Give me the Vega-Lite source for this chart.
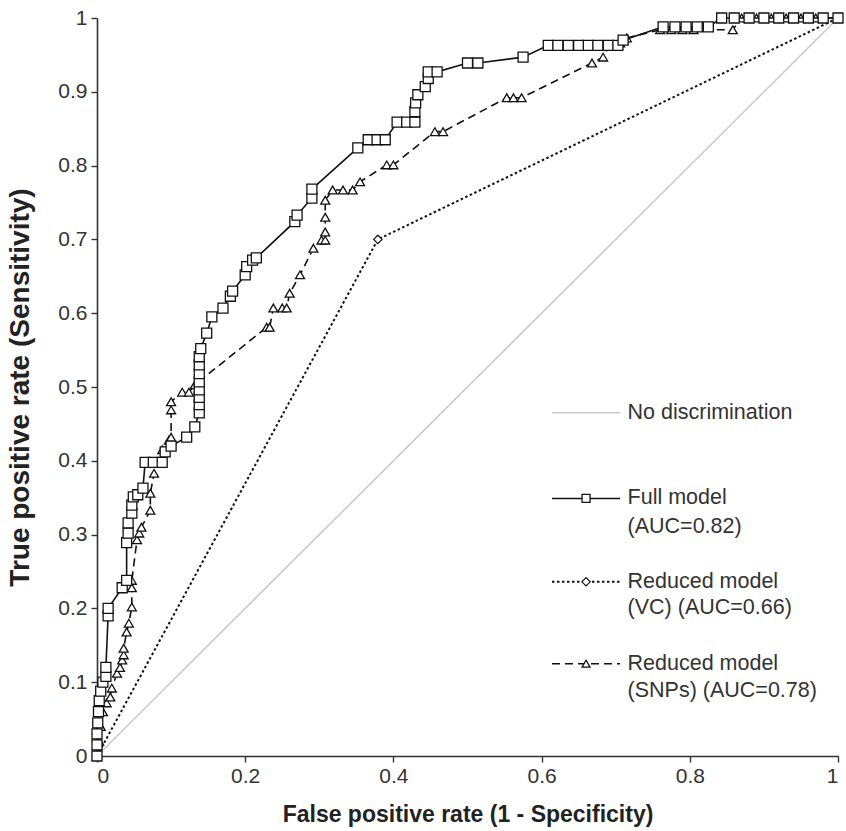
{
  "$schema": "https://vega.github.io/schema/vega-lite/v6.json",
  "width": 741,
  "height": 738,
  "autosize": {"type": "none"},
  "padding": {"left": 97, "top": 18, "right": 8, "bottom": 75},
  "background": "white",
  "config": {
    "view": {"stroke": null},
    "font": "Liberation Sans",
    "axis": {
      "grid": false,
      "domainColor": "#333",
      "domainWidth": 1.6,
      "tickColor": "#333",
      "tickWidth": 1.4,
      "tickSize": 6,
      "labelFont": "Liberation Sans",
      "labelFontSize": 21,
      "labelColor": "#333",
      "titleFont": "Liberation Sans",
      "titleFontWeight": "bold",
      "titleColor": "#222"
    }
  },
  "datasets": {
    "diag": [{"k": 0, "x": 0, "y": 0}, {"k": 1, "x": 1, "y": 1}],
    "vc": [{"k": 0, "x": 0, "y": 0}, {"k": 1, "x": 0.379, "y": 0.70}, {"k": 2, "x": 1, "y": 1}],
    "full": [
      {"k": 0, "x": 0.000, "y": 0.000}, {"k": 1, "x": 0.000, "y": 0.015}, {"k": 2, "x": 0.000, "y": 0.030},
      {"k": 3, "x": 0.001, "y": 0.045}, {"k": 4, "x": 0.002, "y": 0.060}, {"k": 5, "x": 0.003, "y": 0.075},
      {"k": 6, "x": 0.005, "y": 0.088}, {"k": 7, "x": 0.008, "y": 0.100}, {"k": 8, "x": 0.012, "y": 0.108},
      {"k": 9, "x": 0.012, "y": 0.120}, {"k": 10, "x": 0.015, "y": 0.190}, {"k": 11, "x": 0.015, "y": 0.200},
      {"k": 12, "x": 0.034, "y": 0.228}, {"k": 13, "x": 0.040, "y": 0.238}, {"k": 14, "x": 0.040, "y": 0.289},
      {"k": 15, "x": 0.042, "y": 0.302}, {"k": 16, "x": 0.042, "y": 0.316}, {"k": 17, "x": 0.047, "y": 0.329},
      {"k": 18, "x": 0.047, "y": 0.340}, {"k": 19, "x": 0.049, "y": 0.351}, {"k": 20, "x": 0.055, "y": 0.354},
      {"k": 21, "x": 0.062, "y": 0.363}, {"k": 22, "x": 0.065, "y": 0.398}, {"k": 23, "x": 0.076, "y": 0.398},
      {"k": 24, "x": 0.088, "y": 0.398}, {"k": 25, "x": 0.092, "y": 0.412}, {"k": 26, "x": 0.100, "y": 0.420},
      {"k": 27, "x": 0.121, "y": 0.432}, {"k": 28, "x": 0.132, "y": 0.446}, {"k": 29, "x": 0.138, "y": 0.465},
      {"k": 30, "x": 0.138, "y": 0.476}, {"k": 31, "x": 0.138, "y": 0.486}, {"k": 32, "x": 0.138, "y": 0.496},
      {"k": 33, "x": 0.138, "y": 0.507}, {"k": 34, "x": 0.138, "y": 0.518}, {"k": 35, "x": 0.138, "y": 0.530},
      {"k": 36, "x": 0.138, "y": 0.541}, {"k": 37, "x": 0.140, "y": 0.552}, {"k": 38, "x": 0.148, "y": 0.573},
      {"k": 39, "x": 0.155, "y": 0.595}, {"k": 40, "x": 0.170, "y": 0.607}, {"k": 41, "x": 0.180, "y": 0.623},
      {"k": 42, "x": 0.183, "y": 0.630}, {"k": 43, "x": 0.200, "y": 0.652}, {"k": 44, "x": 0.202, "y": 0.663},
      {"k": 45, "x": 0.210, "y": 0.672}, {"k": 46, "x": 0.215, "y": 0.675}, {"k": 47, "x": 0.267, "y": 0.724},
      {"k": 48, "x": 0.270, "y": 0.733}, {"k": 49, "x": 0.290, "y": 0.756}, {"k": 50, "x": 0.290, "y": 0.768},
      {"k": 51, "x": 0.352, "y": 0.824}, {"k": 52, "x": 0.366, "y": 0.835}, {"k": 53, "x": 0.378, "y": 0.835},
      {"k": 54, "x": 0.389, "y": 0.835}, {"k": 55, "x": 0.405, "y": 0.859}, {"k": 56, "x": 0.418, "y": 0.859},
      {"k": 57, "x": 0.429, "y": 0.859}, {"k": 58, "x": 0.429, "y": 0.873}, {"k": 59, "x": 0.430, "y": 0.885},
      {"k": 60, "x": 0.433, "y": 0.896}, {"k": 61, "x": 0.443, "y": 0.907}, {"k": 62, "x": 0.447, "y": 0.918},
      {"k": 63, "x": 0.447, "y": 0.927}, {"k": 64, "x": 0.459, "y": 0.927}, {"k": 65, "x": 0.500, "y": 0.939},
      {"k": 66, "x": 0.514, "y": 0.939}, {"k": 67, "x": 0.575, "y": 0.947}, {"k": 68, "x": 0.609, "y": 0.963},
      {"k": 69, "x": 0.622, "y": 0.963}, {"k": 70, "x": 0.636, "y": 0.963}, {"k": 71, "x": 0.650, "y": 0.963},
      {"k": 72, "x": 0.663, "y": 0.963}, {"k": 73, "x": 0.676, "y": 0.963}, {"k": 74, "x": 0.690, "y": 0.963},
      {"k": 75, "x": 0.703, "y": 0.963}, {"k": 76, "x": 0.710, "y": 0.970}, {"k": 77, "x": 0.764, "y": 0.988},
      {"k": 78, "x": 0.780, "y": 0.988}, {"k": 79, "x": 0.795, "y": 0.988}, {"k": 80, "x": 0.810, "y": 0.988},
      {"k": 81, "x": 0.825, "y": 0.988}, {"k": 82, "x": 0.843, "y": 1.0}, {"k": 83, "x": 0.860, "y": 1.0},
      {"k": 84, "x": 0.880, "y": 1.0}, {"k": 85, "x": 0.900, "y": 1.0}, {"k": 86, "x": 0.920, "y": 1.0},
      {"k": 87, "x": 0.940, "y": 1.0}, {"k": 88, "x": 0.960, "y": 1.0}, {"k": 89, "x": 0.980, "y": 1.0},
      {"k": 90, "x": 1.000, "y": 1.0}
    ],
    "snps": [
      {"k": 0, "x": 0.000, "y": 0.000}, {"k": 1, "x": 0.003, "y": 0.020}, {"k": 2, "x": 0.005, "y": 0.040},
      {"k": 3, "x": 0.008, "y": 0.060}, {"k": 4, "x": 0.013, "y": 0.072}, {"k": 5, "x": 0.018, "y": 0.080},
      {"k": 6, "x": 0.020, "y": 0.092}, {"k": 7, "x": 0.027, "y": 0.112}, {"k": 8, "x": 0.031, "y": 0.120},
      {"k": 9, "x": 0.034, "y": 0.130}, {"k": 10, "x": 0.036, "y": 0.137}, {"k": 11, "x": 0.036, "y": 0.146},
      {"k": 12, "x": 0.040, "y": 0.168}, {"k": 13, "x": 0.043, "y": 0.180}, {"k": 14, "x": 0.047, "y": 0.202},
      {"k": 15, "x": 0.047, "y": 0.228}, {"k": 16, "x": 0.047, "y": 0.238}, {"k": 17, "x": 0.054, "y": 0.293},
      {"k": 18, "x": 0.057, "y": 0.302}, {"k": 19, "x": 0.060, "y": 0.310}, {"k": 20, "x": 0.072, "y": 0.333},
      {"k": 21, "x": 0.072, "y": 0.356}, {"k": 22, "x": 0.077, "y": 0.383}, {"k": 23, "x": 0.088, "y": 0.415},
      {"k": 24, "x": 0.097, "y": 0.428}, {"k": 25, "x": 0.100, "y": 0.432}, {"k": 26, "x": 0.100, "y": 0.469},
      {"k": 27, "x": 0.100, "y": 0.480}, {"k": 28, "x": 0.115, "y": 0.493}, {"k": 29, "x": 0.124, "y": 0.493},
      {"k": 30, "x": 0.132, "y": 0.503}, {"k": 31, "x": 0.229, "y": 0.581}, {"k": 32, "x": 0.233, "y": 0.581},
      {"k": 33, "x": 0.238, "y": 0.607}, {"k": 34, "x": 0.250, "y": 0.607}, {"k": 35, "x": 0.256, "y": 0.607},
      {"k": 36, "x": 0.260, "y": 0.627}, {"k": 37, "x": 0.274, "y": 0.652}, {"k": 38, "x": 0.292, "y": 0.688},
      {"k": 39, "x": 0.303, "y": 0.699}, {"k": 40, "x": 0.308, "y": 0.699}, {"k": 41, "x": 0.308, "y": 0.710},
      {"k": 42, "x": 0.308, "y": 0.730}, {"k": 43, "x": 0.308, "y": 0.753}, {"k": 44, "x": 0.318, "y": 0.767},
      {"k": 45, "x": 0.332, "y": 0.767}, {"k": 46, "x": 0.345, "y": 0.767}, {"k": 47, "x": 0.355, "y": 0.778},
      {"k": 48, "x": 0.391, "y": 0.801}, {"k": 49, "x": 0.400, "y": 0.801}, {"k": 50, "x": 0.456, "y": 0.846},
      {"k": 51, "x": 0.467, "y": 0.846}, {"k": 52, "x": 0.553, "y": 0.892}, {"k": 53, "x": 0.562, "y": 0.892},
      {"k": 54, "x": 0.573, "y": 0.892}, {"k": 55, "x": 0.668, "y": 0.939}, {"k": 56, "x": 0.683, "y": 0.947},
      {"k": 57, "x": 0.692, "y": 0.963}, {"k": 58, "x": 0.706, "y": 0.966}, {"k": 59, "x": 0.715, "y": 0.973},
      {"k": 60, "x": 0.760, "y": 0.984}, {"k": 61, "x": 0.775, "y": 0.984}, {"k": 62, "x": 0.790, "y": 0.984},
      {"k": 63, "x": 0.805, "y": 0.984}, {"k": 64, "x": 0.858, "y": 0.984}, {"k": 65, "x": 0.870, "y": 1.0},
      {"k": 66, "x": 0.890, "y": 1.0}, {"k": 67, "x": 0.910, "y": 1.0}, {"k": 68, "x": 0.930, "y": 1.0},
      {"k": 69, "x": 0.950, "y": 1.0}, {"k": 70, "x": 0.970, "y": 1.0}, {"k": 71, "x": 1.000, "y": 1.0}
    ],
    "legend": [
      {"entry": "diag", "line1": "No discrimination", "line2": ""},
      {"entry": "full", "line1": "Full model", "line2": "(AUC=0.82)"},
      {"entry": "vc", "line1": "Reduced model", "line2": "(VC) (AUC=0.66)"},
      {"entry": "snps", "line1": "Reduced model", "line2": "(SNPs) (AUC=0.78)"}
    ]
  },
  "layer": [
    {
      "encoding": {
        "x": {
          "field": "x", "type": "quantitative",
          "scale": {"domain": [0, 1], "nice": false, "zero": false},
          "axis": {"values": [0, 0.2, 0.4, 0.6, 0.8, 1], "format": "~g", "title": "False positive rate (1 - Specificity)", "labelPadding": 3, "titlePadding": 17, "titleFontSize": 23}
        },
        "y": {
          "field": "y", "type": "quantitative",
          "scale": {"domain": [0, 1], "nice": false, "zero": false},
          "axis": {"values": [0, 0.1, 0.2, 0.3, 0.4, 0.5, 0.6, 0.7, 0.8, 0.9, 1], "format": "~g", "title": "True positive rate (Sensitivity)", "labelPadding": 4, "titlePadding": 23, "titleFontSize": 28}
        },
        "order": {"field": "k"}
      },
      "layer": [
        {"data": {"name": "diag"}, "mark": {"type": "line", "color": "#c8c8c8", "strokeWidth": 1.5}},
        {"data": {"name": "vc"}, "mark": {"type": "line", "color": "#111", "strokeWidth": 2, "strokeDash": [2.5, 2.5]}},
        {"data": {"name": "vc"}, "mark": {"type": "point", "shape": "diamond", "size": 70, "fill": "white", "stroke": "#111", "strokeWidth": 1.2, "fillOpacity": 1, "strokeOpacity": 1, "opacity": 1}},
        {"data": {"name": "snps"}, "mark": {"type": "line", "color": "#111", "strokeWidth": 1.6, "strokeDash": [8, 5]}},
        {"data": {"name": "snps"}, "mark": {"type": "point", "shape": "triangle-up", "size": 80, "fill": "white", "stroke": "#111", "strokeWidth": 1.3, "fillOpacity": 1, "strokeOpacity": 1, "opacity": 1}},
        {"data": {"name": "full"}, "mark": {"type": "line", "color": "#111", "strokeWidth": 1.6}},
        {"data": {"name": "full"}, "mark": {"type": "point", "shape": "square", "size": 100, "fill": "white", "stroke": "#111", "strokeWidth": 1.3, "fillOpacity": 1, "strokeOpacity": 1, "opacity": 1}}
      ]
    },
    {
      "data": {"name": "legend"},
      "transform": [{"filter": "datum.entry === 'diag'"}],
      "layer": [
        {"mark": {"type": "rule", "color": "#c8c8c8", "strokeWidth": 1.5}, "encoding": {"x": {"datum": 0.614, "type": "quantitative"}, "x2": {"datum": 0.706}, "y": {"datum": 0.465, "type": "quantitative"}}},
        {"mark": {"type": "text", "align": "left", "baseline": "middle", "fontSize": 21.5, "color": "#333", "font": "Liberation Sans"}, "encoding": {"x": {"datum": 0.716, "type": "quantitative"}, "y": {"datum": 0.465, "type": "quantitative"}, "text": {"field": "line1"}}}
      ]
    },
    {
      "data": {"name": "legend"},
      "transform": [{"filter": "datum.entry === 'full'"}],
      "layer": [
        {"mark": {"type": "rule", "color": "#111", "strokeWidth": 1.6}, "encoding": {"x": {"datum": 0.614, "type": "quantitative"}, "x2": {"datum": 0.706}, "y": {"datum": 0.349, "type": "quantitative"}}},
        {"mark": {"type": "point", "shape": "square", "size": 64, "fill": "white", "stroke": "#111", "strokeWidth": 1.3, "fillOpacity": 1, "opacity": 1}, "encoding": {"x": {"datum": 0.66, "type": "quantitative"}, "y": {"datum": 0.349, "type": "quantitative"}}},
        {"mark": {"type": "text", "align": "left", "baseline": "middle", "fontSize": 21.5, "color": "#333", "font": "Liberation Sans"}, "encoding": {"x": {"datum": 0.716, "type": "quantitative"}, "y": {"datum": 0.349, "type": "quantitative"}, "text": {"field": "line1"}}},
        {"mark": {"type": "text", "align": "left", "baseline": "middle", "fontSize": 21.5, "color": "#333", "font": "Liberation Sans"}, "encoding": {"x": {"datum": 0.716, "type": "quantitative"}, "y": {"datum": 0.310, "type": "quantitative"}, "text": {"field": "line2"}}}
      ]
    },
    {
      "data": {"name": "legend"},
      "transform": [{"filter": "datum.entry === 'vc'"}],
      "layer": [
        {"mark": {"type": "rule", "color": "#111", "strokeWidth": 2, "strokeDash": [2.5, 2.5]}, "encoding": {"x": {"datum": 0.614, "type": "quantitative"}, "x2": {"datum": 0.706}, "y": {"datum": 0.236, "type": "quantitative"}}},
        {"mark": {"type": "point", "shape": "diamond", "size": 70, "fill": "white", "stroke": "#111", "strokeWidth": 1.2, "fillOpacity": 1, "opacity": 1}, "encoding": {"x": {"datum": 0.66, "type": "quantitative"}, "y": {"datum": 0.236, "type": "quantitative"}}},
        {"mark": {"type": "text", "align": "left", "baseline": "middle", "fontSize": 21.5, "color": "#333", "font": "Liberation Sans"}, "encoding": {"x": {"datum": 0.716, "type": "quantitative"}, "y": {"datum": 0.236, "type": "quantitative"}, "text": {"field": "line1"}}},
        {"mark": {"type": "text", "align": "left", "baseline": "middle", "fontSize": 21.5, "color": "#333", "font": "Liberation Sans"}, "encoding": {"x": {"datum": 0.716, "type": "quantitative"}, "y": {"datum": 0.2005, "type": "quantitative"}, "text": {"field": "line2"}}}
      ]
    },
    {
      "data": {"name": "legend"},
      "transform": [{"filter": "datum.entry === 'snps'"}],
      "layer": [
        {"mark": {"type": "rule", "color": "#111", "strokeWidth": 1.6, "strokeDash": [8, 5]}, "encoding": {"x": {"datum": 0.614, "type": "quantitative"}, "x2": {"datum": 0.706}, "y": {"datum": 0.125, "type": "quantitative"}}},
        {"mark": {"type": "point", "shape": "triangle-up", "size": 64, "fill": "white", "stroke": "#111", "strokeWidth": 1.3, "fillOpacity": 1, "opacity": 1}, "encoding": {"x": {"datum": 0.66, "type": "quantitative"}, "y": {"datum": 0.125, "type": "quantitative"}}},
        {"mark": {"type": "text", "align": "left", "baseline": "middle", "fontSize": 21.5, "color": "#333", "font": "Liberation Sans"}, "encoding": {"x": {"datum": 0.716, "type": "quantitative"}, "y": {"datum": 0.125, "type": "quantitative"}, "text": {"field": "line1"}}},
        {"mark": {"type": "text", "align": "left", "baseline": "middle", "fontSize": 21.5, "color": "#333", "font": "Liberation Sans"}, "encoding": {"x": {"datum": 0.716, "type": "quantitative"}, "y": {"datum": 0.088, "type": "quantitative"}, "text": {"field": "line2"}}}
      ]
    }
  ]
}
